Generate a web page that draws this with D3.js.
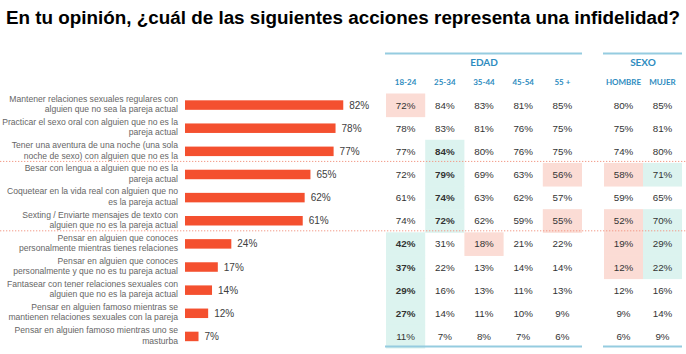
<!DOCTYPE html>
<html><head><meta charset="utf-8">
<script src="https://cdn.jsdelivr.net/npm/d3@7"></script>
<style>body{margin:0;background:#fff}</style>
</head><body><svg id="c" width="686" height="354"></svg>
<script>
const title = "En tu opinión, ¿cuál de las siguientes acciones representa una infidelidad?";
const categories = [
  "Mantener relaciones sexuales regulares con\nalguien que no sea la pareja actual",
  "Practicar el sexo oral con alguien que no es la\npareja actual",
  "Tener una aventura de una noche (una sola\nnoche de sexo) con alguien que no es la",
  "Besar con lengua a alguien que no es la\npareja actual",
  "Coquetear en la vida real con alguien que no\nes la pareja actual",
  "Sexting / Enviarte mensajes de texto con\nalguien que no es la pareja actual",
  "Pensar en alguien que conoces\npersonalmente mientras tienes relaciones",
  "Pensar en alguien que conoces\npersonalmente y que no es tu pareja actual",
  "Fantasear con tener relaciones sexuales con\nalguien que no es la pareja actual",
  "Pensar en alguien famoso mientras se\nmantienen relaciones sexuales con la pareja",
  "Pensar en alguien famoso mientras uno se\nmasturba"
];
const totals = [82, 78, 77, 65, 62, 61, 24, 17, 14, 12, 7];

const ageGroups = ["18-24", "25-34", "35-44", "45-54", "55 +"];
const sexGroups = ["HOMBRE", "MUJER"];
const groupTitles = ["EDAD", "SEXO"];

const age1824 = [72, 78, 77, 72, 61, 74, 42, 37, 29, 27, 11];
const age2534 = [84, 83, 84, 79, 74, 72, 31, 22, 16, 14, 7];
const age3544 = [83, 81, 80, 69, 63, 62, 18, 13, 13, 11, 8];
const age4554 = [81, 76, 76, 63, 62, 59, 21, 14, 11, 10, 7];
const age55 = [85, 75, 75, 56, 57, 55, 22, 14, 13, 9, 6];
const hombre = [80, 75, 74, 58, 59, 52, 19, 12, 12, 9, 6];
const mujer = [85, 81, 80, 71, 65, 70, 29, 22, 16, 14, 9];

// significance flags: "H" = high (bold), "h" = high, "l" = low, "" = none
const flag1824 = ["l", "", "", "", "", "", "H", "H", "H", "H", "h"];
const flag2534 = ["", "", "H", "H", "H", "H", "", "", "", "", ""];
const flag3544 = ["", "", "", "", "", "", "l", "", "", "", ""];
const flag4554 = ["", "", "", "", "", "", "", "", "", "", ""];
const flag55 = ["", "", "", "l", "", "l", "", "", "", "", ""];
const flagHombre = ["", "", "", "l", "", "l", "l", "l", "", "", ""];
const flagMujer = ["", "", "", "h", "", "h", "h", "h", "", "", ""];

const svg = d3.select("#c");
const W = 686, H = 354;

svg.append("text").attr("x", 6).attr("y", 23.5)
  .attr("font-family", "Liberation Sans, Arial, sans-serif")
  .attr("font-weight", "bold").attr("font-size", 17.5).attr("fill", "#000")
  .attr("textLength", 674).attr("lengthAdjust", "spacingAndGlyphs")
  .text(title);

const y = d3.scaleBand().domain(d3.range(categories.length)).range([93.5, 348]);
const x = d3.scaleLinear().domain([0, 100]).range([185, 378]);

const xAge = d3.scaleBand().domain(ageGroups).range([386, 582]);
const xSex = d3.scaleBand().domain(sexGroups).range([604, 682]);

const columns = [
  {key: ageGroups[0], vals: age1824, flags: flag1824, sc: xAge},
  {key: ageGroups[1], vals: age2534, flags: flag2534, sc: xAge},
  {key: ageGroups[2], vals: age3544, flags: flag3544, sc: xAge},
  {key: ageGroups[3], vals: age4554, flags: flag4554, sc: xAge},
  {key: ageGroups[4], vals: age55, flags: flag55, sc: xAge},
  {key: sexGroups[0], vals: hombre, flags: flagHombre, sc: xSex},
  {key: sexGroups[1], vals: mujer, flags: flagMujer, sc: xSex}
];

// highlight cells
const cells = [];
columns.forEach(c => c.vals.forEach((v, i) => cells.push({c, i, v, f: c.flags[i]})));
svg.append("g").selectAll("rect").data(cells.filter(d => d.f)).join("rect")
  .attr("x", d => d.c.sc(d.c.key)).attr("width", d => d.c.sc.bandwidth())
  .attr("y", d => y(d.i)).attr("height", y.bandwidth() + 0.5)
  .attr("fill", d => d.f === "l" ? "#fbdcd5" : "#dcf3ef");

// cell values
svg.append("g").selectAll("text").data(cells).join("text")
  .attr("x", d => d.c.sc(d.c.key) + d.c.sc.bandwidth() / 2)
  .attr("y", d => y(d.i) + y.bandwidth() / 2 + 3.5)
  .attr("text-anchor", "middle")
  .attr("font-family", "Liberation Sans, Arial, sans-serif")
  .attr("font-size", 9.8)
  .attr("font-weight", d => d.f === "H" ? "bold" : "normal")
  .attr("fill", "#333")
  .text(d => d.v + "%");

// dotted separators
[3, 6].forEach(i => {
  svg.append("line").attr("x1", 0).attr("x2", W)
    .attr("y1", y(i) - 1.5).attr("y2", y(i) - 1.5)
    .attr("stroke", "#f29a88").attr("stroke-width", 1)
    .attr("stroke-dasharray", "1.3,1.7");
});

// group lines and headers
const groups = [{t: groupTitles[0], sc: xAge, keys: ageGroups}, {t: groupTitles[1], sc: xSex, keys: sexGroups}];
groups.forEach(g => {
  const [a, b] = g.sc.range();
  [53.5, 346.5].forEach(yy => svg.append("line").attr("x1", a - 1).attr("x2", b)
    .attr("y1", yy).attr("y2", yy).attr("stroke", "#95cce0").attr("stroke-width", 2));
  svg.append("text").attr("x", (a + b) / 2).attr("y", 65.5).attr("text-anchor", "middle")
    .attr("font-family", "Lato, sans-serif").attr("font-weight", "bold").attr("font-size", 10)
    .attr("fill", "#2e8cc0").text(g.t);
  svg.append("g").selectAll("text").data(g.keys).join("text")
    .attr("x", k => g.sc(k) + g.sc.bandwidth() / 2).attr("y", 85)
    .attr("text-anchor", "middle")
    .attr("font-family", "Lato, sans-serif").attr("font-weight", "bold").attr("font-size", 8)
    .attr("fill", "#2e8cc0").text(k => k);
});

// bars
const bh = 9.5;
svg.append("g").selectAll("rect").data(totals).join("rect")
  .attr("x", x(0)).attr("y", (d, i) => y(i) + y.bandwidth() / 2 - bh / 2)
  .attr("width", d => x(d) - x(0)).attr("height", bh)
  .attr("fill", "#f4502f");

svg.append("g").selectAll("text").data(totals).join("text")
  .attr("x", d => x(d) + 6).attr("y", (d, i) => y(i) + y.bandwidth() / 2 + 3.6)
  .attr("font-family", "Liberation Sans, Arial, sans-serif").attr("font-size", 10)
  .attr("fill", "#404040").text(d => d + "%");

// category labels
const lab = svg.append("g").selectAll("text").data(categories).join("text")
  .attr("text-anchor", "end")
  .attr("font-family", "Liberation Sans, Arial, sans-serif").attr("font-size", 8.6)
  .attr("fill", "#666");
lab.each(function(d, i) {
  const lines = d.split("\n");
  const cy = y(i) + y.bandwidth() / 2 - 1;
  d3.select(this).selectAll("tspan").data(lines).join("tspan")
    .attr("x", 178)
    .attr("y", (l, j) => cy + (j - (lines.length - 1) / 2) * 10.4 + 3)
    .text(l => l);
});
</script></body></html>
